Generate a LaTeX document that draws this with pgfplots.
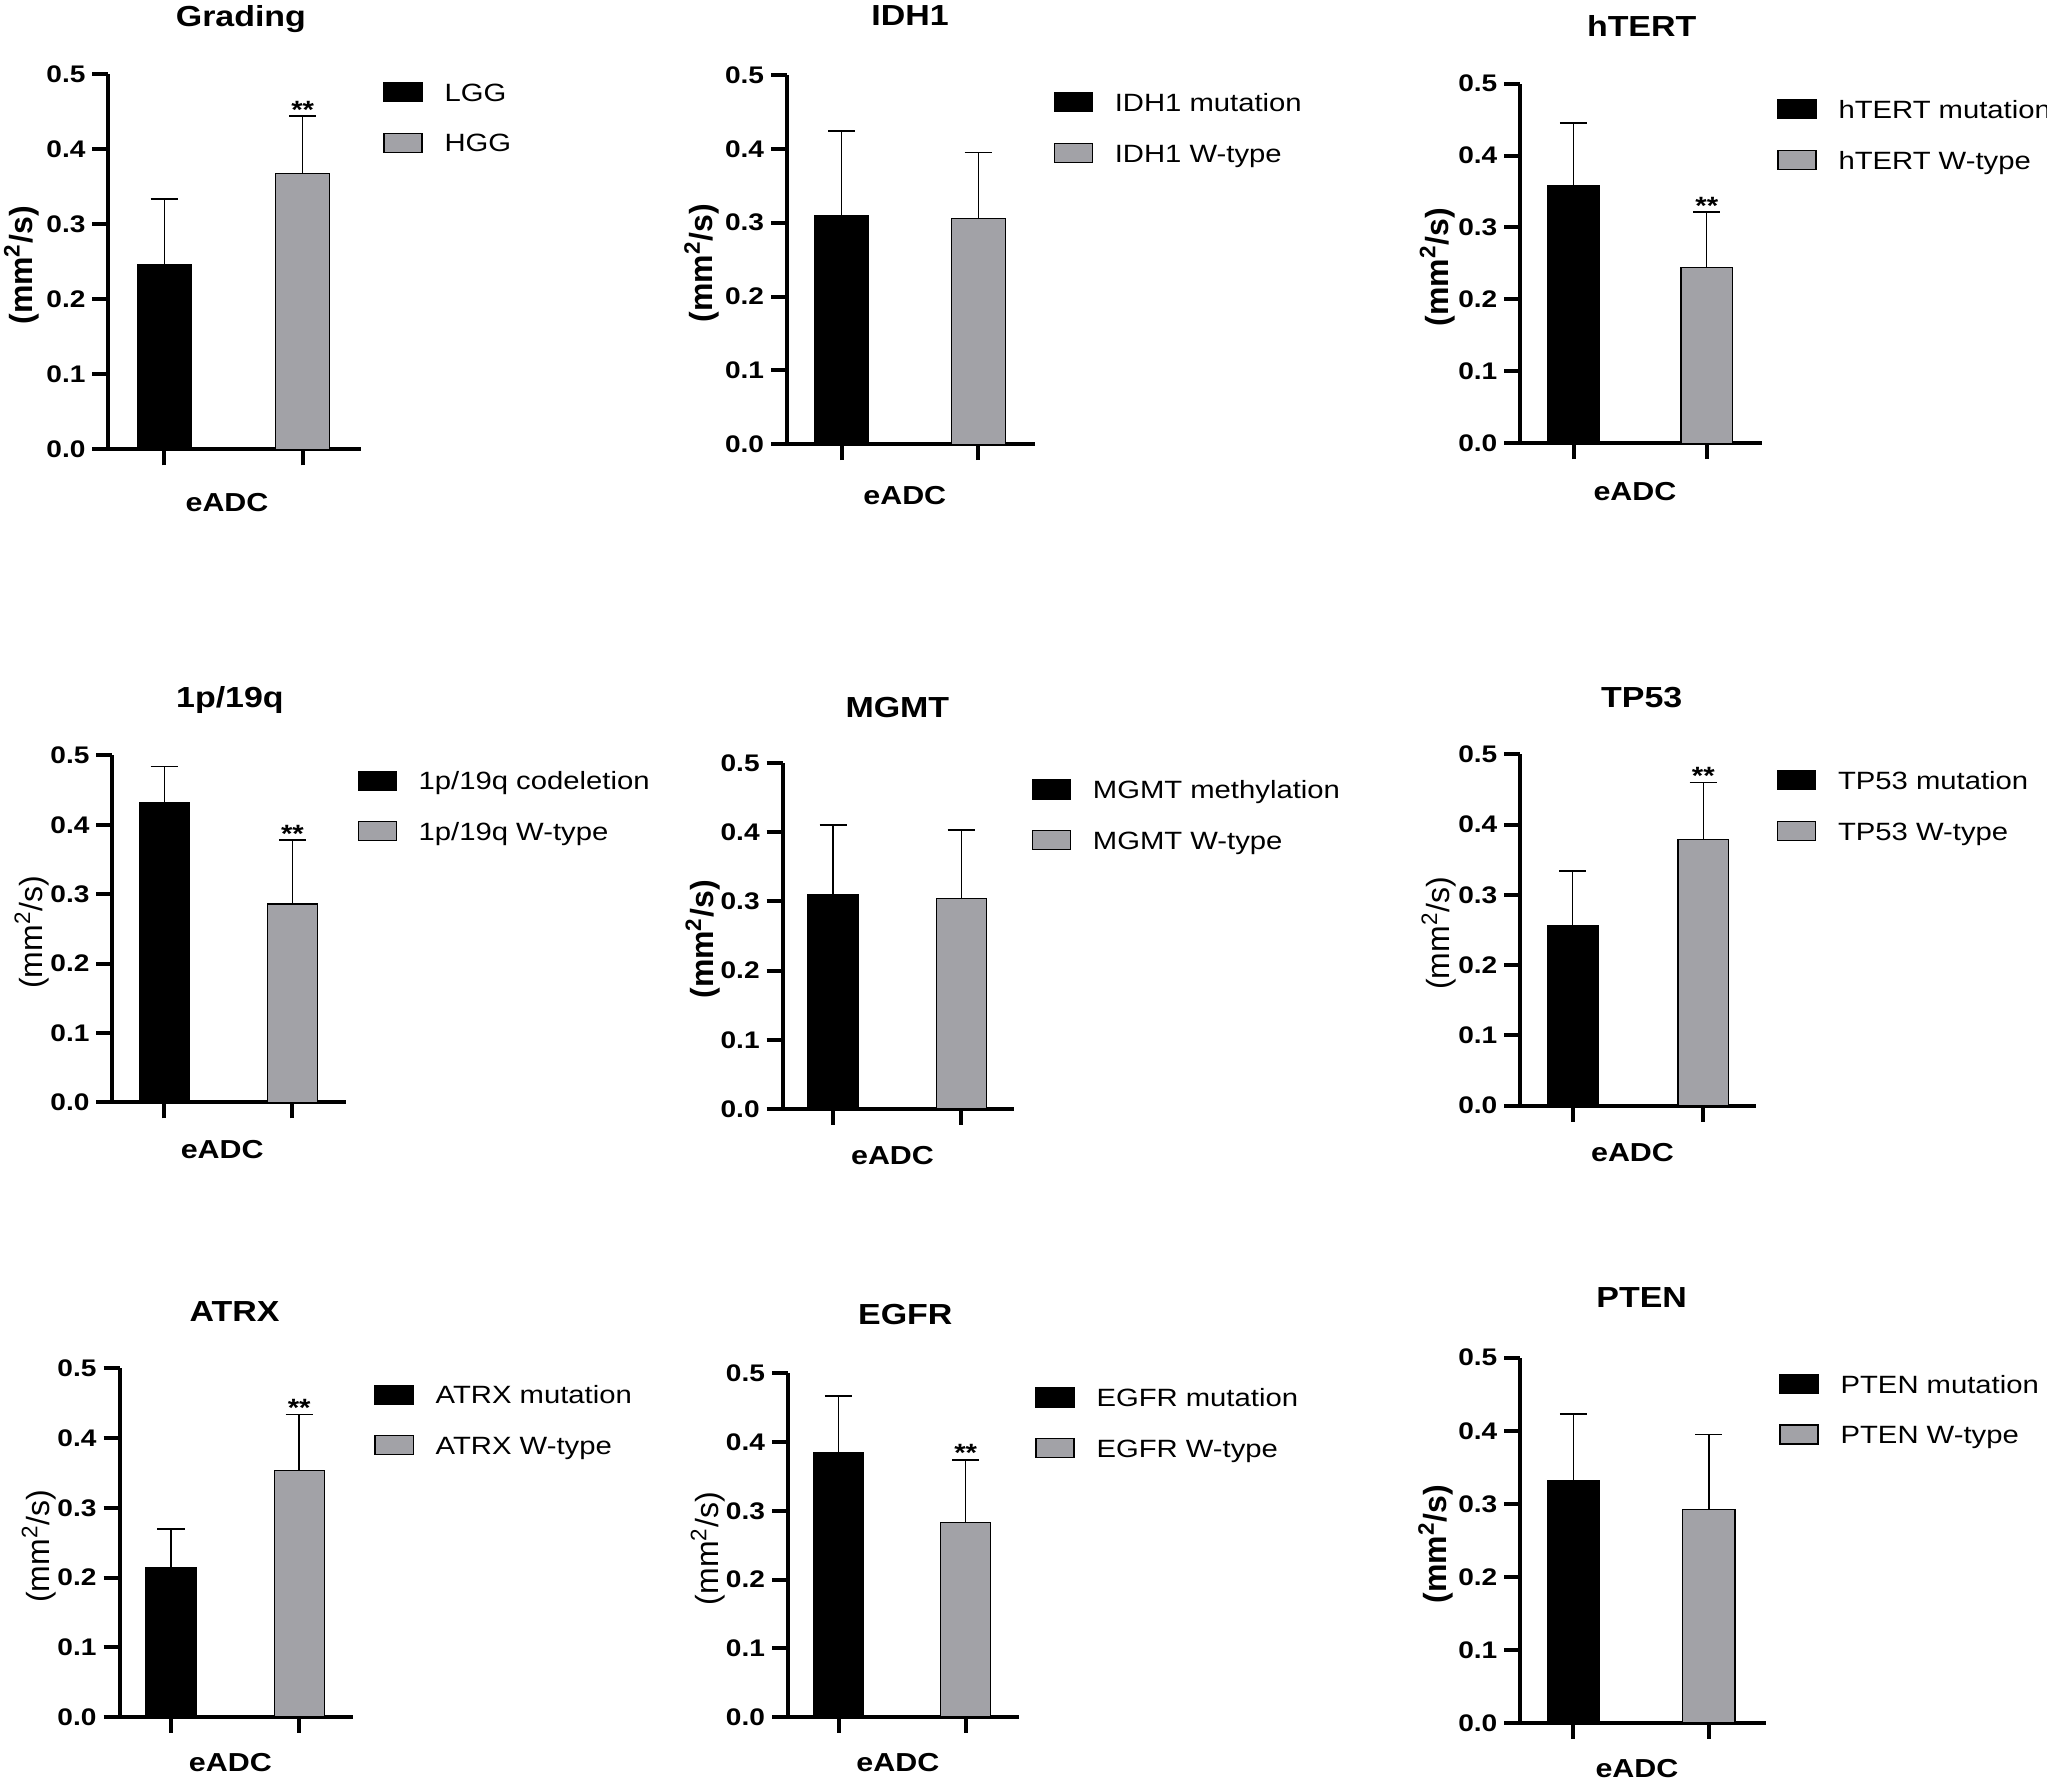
\documentclass[border=0pt]{standalone}
\usepackage{fontspec}
\setmainfont{Liberation Sans}[FakeStretch=1.17]
\newfontfamily\ylfont{Liberation Sans}
\usepackage{pgfplots}
\pgfplotsset{compat=1.18}
\definecolor{bargray}{RGB}{162,162,167}
\pgfplotsset{
  panel/.style={
    scale only axis, clip=false,
    anchor=south west,
    ymin=0, ymax=0.5,
    axis x line*=bottom, axis y line*=left,
    axis line style={line width=2pt, black},
    every tick/.style={black, line width=2pt},
    major tick length=8pt, tick align=outside,
    xtick={1,2}, xticklabels={},
    ytick={0,0.1,0.2,0.3,0.4,0.5},
    yticklabel style={font=\fontsize{12}{14}\selectfont\bfseries,
      /pgf/number format/fixed, /pgf/number format/fixed zerofill,
      /pgf/number format/precision=1, /pgf/number format/assume math mode=true},
    xlabel={\bfseries eADC},
    xlabel style={font=\fontsize{13}{15}\selectfont, anchor=base, inner sep=0pt},
    ylabel style={font=\ylfont\fontsize{16}{18}\selectfont, at={(axis description cs:-0.345,0.49)}, anchor=center, inner sep=0pt},
    title style={font=\fontsize{14.5}{17}\selectfont\bfseries, anchor=base, inner sep=0pt},
    legend style={draw=none, fill=none, inner sep=0pt, anchor=north west,
      font=\fontsize{12.5}{15}\selectfont, row sep=15.2pt, column sep=11pt,
      nodes={inner sep=0pt, text height=9.3pt, text depth=0pt}},
    legend cell align=left,
    legend image code/.code={\draw[#1] (0pt,-4.75pt) rectangle (19pt,4.75pt);},
  },
  bbar/.style={ybar, bar shift=0pt, fill=black, draw=black, line width=0.6pt,
    error bars/.cd, y dir=plus, y explicit, error mark=|,
    error bar style={line width=0.7pt, black},
    error mark options={line width=0.9pt, mark size=6.8pt, black}},
  gbar/.style={ybar, bar shift=0pt, fill=bargray, draw=black, line width=0.6pt,
    error bars/.cd, y dir=plus, y explicit, error mark=|,
    error bar style={line width=0.7pt, black},
    error mark options={line width=0.9pt, mark size=6.8pt, black}},
}
\newcommand{\yl}{(mm\textsuperscript{2}/s)}
\newcommand{\stars}[1]{\node[font=\fontsize{12.5}{14}\selectfont\bfseries, anchor=base, inner sep=0pt, yshift=-1pt] at (axis cs:2,#1) {**};}
\begin{document}
\begin{tikzpicture}
\path[use as bounding box] (0,0) rectangle (1023.5pt,891.5pt);

% ---------- Grading ----------
\begin{axis}[panel, at={(54.25pt,666.8pt)}, width=126.1pt, height=187.7pt,
  xmin=0.597, xmax=2.419, bar width=0.39,
  title={Grading}, title style={at={(axis description cs:0.525,1)}, yshift=17.5pt},
  xlabel style={at={(axis description cs:0.47,0)}, yshift=-31pt},
  ylabel={\bfseries\yl},
  legend style={at={(axis description cs:0,1)}, xshift=137.25pt, yshift=-3.8pt}]
\addplot[bbar] coordinates {(1,0.246) +- (0,0.088)};
\addplot[gbar] coordinates {(2,0.367) +- (0,0.077)};
\stars{0.444}
\legend{LGG,HGG}
\end{axis}

% ---------- IDH1 ----------
\begin{axis}[panel, at={(393.55pt,669.4pt)}, width=123.9pt, height=184.55pt,
  xmin=0.601, xmax=2.415, bar width=0.395,
  title={IDH1}, title style={at={(axis description cs:0.496,1)}, yshift=18.6pt},
  xlabel style={at={(axis description cs:0.475,0)}, yshift=-30.2pt},
  ylabel={\bfseries\yl},
  legend style={at={(axis description cs:0,1)}, xshift=133.05pt, yshift=-8.4pt}]
\addplot[bbar] coordinates {(1,0.309) +- (0,0.115)};
\addplot[gbar] coordinates {(2,0.306) +- (0,0.089)};
\legend{IDH1 mutation,IDH1 W-type}
\end{axis}

% ---------- hTERT ----------
\begin{axis}[panel, at={(760.2pt,669.9pt)}, width=120.55pt, height=179.75pt,
  xmin=0.601, xmax=2.411, bar width=0.387,
  title={hTERT}, title style={at={(axis description cs:0.503,1)}, yshift=17.7pt},
  xlabel style={at={(axis description cs:0.475,0)}, yshift=-28.9pt},
  ylabel={\bfseries\yl},
  legend style={at={(axis description cs:0,1)}, xshift=128.25pt, yshift=-7.55pt}]
\addplot[bbar] coordinates {(1,0.358) +- (0,0.087)};
\addplot[gbar] coordinates {(2,0.244) +- (0,0.077)};
\stars{0.321}
\legend{hTERT mutation,hTERT W-type}
\end{axis}

% ---------- 1p/19q ----------
\begin{axis}[panel, at={(56.25pt,340.25pt)}, width=116.75pt, height=173.55pt,
  xmin=0.596, xmax=2.418, bar width=0.39,
  title={1p/19q}, title style={at={(axis description cs:0.503,1)}, yshift=17.8pt},
  xlabel style={at={(axis description cs:0.47,0)}, yshift=-27.9pt},
  ylabel={\yl},
  legend style={at={(axis description cs:0,1)}, xshift=122.3pt, yshift=-7.4pt}]
\addplot[bbar] coordinates {(1,0.432) +- (0,0.052)};
\addplot[gbar] coordinates {(2,0.286) +- (0,0.092)};
\stars{0.378}
\legend{1p/19q codeletion,1p/19q W-type}
\end{axis}

% ---------- MGMT ----------
\begin{axis}[panel, at={(391.35pt,337pt)}, width=115.6pt, height=173.05pt,
  xmin=0.607, xmax=2.41, bar width=0.39,
  title={MGMT}, title style={at={(axis description cs:0.496,1)}, yshift=16.7pt},
  xlabel style={at={(axis description cs:0.475,0)}, yshift=-28pt},
  ylabel={\bfseries\yl},
  legend style={at={(axis description cs:0,1)}, xshift=124.3pt, yshift=-8.1pt}]
\addplot[bbar] coordinates {(1,0.310) +- (0,0.100)};
\addplot[gbar] coordinates {(2,0.304) +- (0,0.099)};
\legend{MGMT methylation,MGMT W-type}
\end{axis}

% ---------- TP53 ----------
\begin{axis}[panel, at={(760.2pt,338.7pt)}, width=118pt, height=175.65pt,
  xmin=0.6, xmax=2.407, bar width=0.387,
  title={TP53}, title style={at={(axis description cs:0.514,1)}, yshift=17.6pt},
  xlabel style={at={(axis description cs:0.475,0)}, yshift=-28pt},
  ylabel={\yl},
  legend style={at={(axis description cs:0,1)}, xshift=128pt, yshift=-7.75pt}]
\addplot[bbar] coordinates {(1,0.256) +- (0,0.078)};
\addplot[gbar] coordinates {(2,0.379) +- (0,0.081)};
\stars{0.460}
\legend{TP53 mutation,TP53 W-type}
\end{axis}

% ---------- ATRX ----------
\begin{axis}[panel, at={(59.8pt,33pt)}, width=116.55pt, height=174.3pt,
  xmin=0.599, xmax=2.418, bar width=0.39,
  title={ATRX}, title style={at={(axis description cs:0.493,1)}, yshift=17.35pt},
  xlabel style={at={(axis description cs:0.475,0)}, yshift=-27.5pt},
  ylabel={\yl},
  legend style={at={(axis description cs:0,1)}, xshift=127.25pt, yshift=-7.85pt}]
\addplot[bbar] coordinates {(1,0.214) +- (0,0.056)};
\addplot[gbar] coordinates {(2,0.354) +- (0,0.080)};
\stars{0.434}
\legend{ATRX mutation,ATRX W-type}
\end{axis}

% ---------- EGFR ----------
\begin{axis}[panel, at={(394pt,33pt)}, width=115.65pt, height=171.8pt,
  xmin=0.603, xmax=2.421, bar width=0.393,
  title={EGFR}, title style={at={(axis description cs:0.507,1)}, yshift=18.5pt},
  xlabel style={at={(axis description cs:0.475,0)}, yshift=-27.5pt},
  ylabel={\yl},
  legend style={at={(axis description cs:0,1)}, xshift=123.45pt, yshift=-6.85pt}]
\addplot[bbar] coordinates {(1,0.385) +- (0,0.082)};
\addplot[gbar] coordinates {(2,0.283) +- (0,0.091)};
\stars{0.374}
\legend{EGFR mutation,EGFR W-type}
\end{axis}

% ---------- PTEN ----------
\begin{axis}[panel, at={(760.2pt,30pt)}, width=122.7pt, height=182.65pt,
  xmin=0.608, xmax=2.421, bar width=0.388,
  title={PTEN}, title style={at={(axis description cs:0.494,1)}, yshift=19pt},
  xlabel style={at={(axis description cs:0.475,0)}, yshift=-27.5pt},
  ylabel={\bfseries\yl},
  legend style={at={(axis description cs:0,1)}, xshift=129.3pt, yshift=-7.85pt}]
\addplot[bbar] coordinates {(1,0.332) +- (0,0.091)};
\addplot[gbar] coordinates {(2,0.292) +- (0,0.103)};
\legend{PTEN mutation,PTEN W-type}
\end{axis}
\end{tikzpicture}
\end{document}
